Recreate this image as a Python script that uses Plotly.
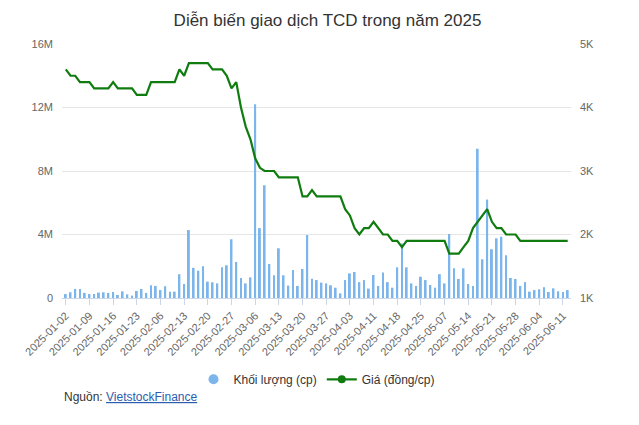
import pandas as pd
import plotly.graph_objects as go

holidays = ["2025-01-27", "2025-01-28", "2025-01-29", "2025-01-30", "2025-01-31",
            "2025-04-07", "2025-04-30", "2025-05-01", "2025-05-02"]
dates = [d.strftime("%Y-%m-%d") for d in pd.bdate_range("2025-01-02", "2025-06-12")
         if d.strftime("%Y-%m-%d") not in holidays]

volume_m = [0.25, 0.36, 0.57, 0.57, 0.32, 0.25, 0.25, 0.34, 0.36, 0.32,
            0.38, 0.19, 0.42, 0.23, 0.15, 0.44, 0.57, 0.32, 0.8, 0.76,
            0.5, 0.74, 0.4, 0.4, 1.5, 0.88, 4.28, 1.9, 1.72, 2.0,
            1.03, 0.99, 0.92, 1.93, 2.06, 3.7, 2.27, 1.26, 0.92, 1.3,
            12.2, 4.4, 7.1, 2.14, 1.43, 3.13, 1.43, 0.78, 1.76, 0.76,
            1.83, 3.97,
            1.22, 1.13, 0.97, 0.92, 0.8, 0.65, 0.29, 1.13, 1.55, 1.64,
            1.0, 1.13, 0.59, 1.45, 0.76, 1.6, 1.0, 0.65, 1.93, 3.44,
            1.93, 0.92, 0.76, 1.34, 1.13, 0.82, 0.65, 1.5, 0.92, 4.03,
            1.87, 1.2, 1.87, 0.88, 0.76, 9.4, 2.44, 6.2, 3.07, 3.76,
            3.86, 2.69, 1.26, 1.2, 0.76, 1.0, 0.4, 0.5, 0.55, 0.67,
            0.38, 0.61, 0.42, 0.38, 0.5]

price_k = [4.6, 4.5, 4.5, 4.4, 4.4, 4.4, 4.3, 4.3, 4.3, 4.3,
           4.4, 4.3, 4.3, 4.3, 4.3, 4.2, 4.2, 4.2, 4.4, 4.4,
           4.4, 4.4, 4.4, 4.4, 4.6, 4.5, 4.7, 4.7, 4.7, 4.7,
           4.7, 4.6, 4.6, 4.6, 4.5, 4.3, 4.4, 4.0, 3.7, 3.5,
           3.2, 3.05, 3.0, 3.0, 3.0, 2.9, 2.9, 2.9, 2.9, 2.9,
           2.6, 2.6, 2.7, 2.6, 2.6, 2.6, 2.6, 2.6, 2.6, 2.4,
           2.3, 2.1, 2.0, 2.1, 2.1, 2.2, 2.1, 2.0, 2.0, 1.9,
           1.9, 1.8, 1.9, 1.9, 1.9, 1.9, 1.9, 1.9, 1.9, 1.9,
           1.9, 1.7, 1.7, 1.7, 1.8, 1.9, 2.1, 2.2, 2.3, 2.4,
           2.2, 2.1, 2.1, 2.0, 2.0, 2.0, 1.9, 1.9, 1.9, 1.9,
           1.9, 1.9, 1.9, 1.9, 1.9, 1.9, 1.9]

n = min(len(dates), len(volume_m), len(price_k))
dates, volume_m, price_k = dates[:n], volume_m[:n], price_k[:n]
volume = [v * 1e6 for v in volume_m]
price = [p * 1000 for p in price_k]

vol_ticks = [0, 4e6, 8e6, 12e6, 16e6]
vol_labels = ["0", "4M", "8M", "12M", "16M"]
price_ticks = [1000, 2000, 3000, 4000, 5000]
price_labels = ["1K", "2K", "3K", "4K", "5K"]

BLUE = "#7cb5ec"
GREEN = "#107c10"
fig = go.Figure()
fig.add_trace(go.Bar(x=dates, y=volume, name="Khối lượng (cp)", showlegend=False,
                     marker=dict(color=BLUE, line=dict(width=0)), width=0.4))
fig.add_trace(go.Scatter(x=dates, y=price, name="Giá (đồng/cp)", yaxis="y2", showlegend=False,
                         mode="lines", line=dict(color=GREEN, width=2.2)))
fig.add_trace(go.Scatter(x=[None], y=[None], name="Khối lượng (cp)", mode="markers",
                         marker=dict(color=BLUE, size=10, symbol="circle")))
fig.add_trace(go.Scatter(x=[None], y=[None], name="Giá (đồng/cp)", mode="lines+markers", yaxis="y2",
                         marker=dict(color=GREEN, size=8, symbol="circle"),
                         line=dict(color=GREEN, width=2.2)))

font_tick = dict(family="Arial, Liberation Sans, sans-serif", size=11, color="#666666")
fig.update_layout(
    width=639, height=425,
    paper_bgcolor="white", plot_bgcolor="white",
    margin=dict(l=54, r=76, t=36, b=135),
    title=dict(text="Diễn biến giao dịch TCD trong năm 2025", x=0.5, xanchor="center",
               y=0.972, yanchor="middle",
               font=dict(family="Arial, Liberation Sans, sans-serif", size=17, color="#333333")),
    xaxis=dict(type="category", tickvals=dates[::5], ticktext=dates[::5], tickangle=-45,
               tickfont=font_tick, ticks="outside", ticklen=6, tickcolor="#ccd6eb",
               showline=True, linecolor="#ccd6eb", showgrid=False, automargin=False,
               range=[-0.8, n - 0.3]),
    yaxis=dict(range=[0, 16e6], tickvals=vol_ticks, ticktext=vol_labels, tickfont=font_tick,
               showgrid=True, gridcolor="#e6e6e6", zeroline=False, ticklabelstandoff=8,
               automargin=False),
    yaxis2=dict(range=[1000, 5000], tickvals=price_ticks, ticktext=price_labels, overlaying="y",
                side="right", tickfont=font_tick, showgrid=False, zeroline=False,
                ticklabelstandoff=8, automargin=False),
    legend=dict(orientation="h", x=0.5, xanchor="center", y=-0.32, yanchor="middle",
                itemwidth=30,
                font=dict(family="Arial, Liberation Sans, sans-serif", size=12, color="#333333")),
    annotations=[dict(text="Nguồn: <a href='https://finance.vietstock.vn' style='color:#2a5db0'><u>VietstockFinance</u></a>",
                      xref="paper", yref="paper", x=0, xanchor="left", y=-0.39, yanchor="middle",
                      showarrow=False,
                      font=dict(family="Arial, Liberation Sans, sans-serif", size=12, color="#333333"))],
)
fig.write_html("out.html")
